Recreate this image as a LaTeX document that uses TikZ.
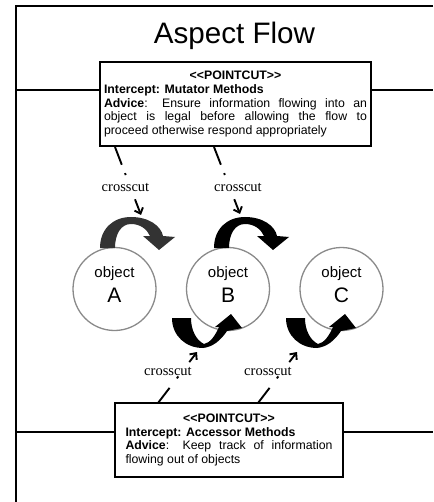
\documentclass[tikz,border=0pt]{standalone}
\usepackage{fontspec}
\setmainfont{Liberation Sans}
\newfontfamily\ccserif{Liberation Serif}
\usetikzlibrary{arrows.meta}
\definecolor{darkarr}{HTML}{333333}
\definecolor{circgray}{HTML}{8A8A8A}
\begin{document}
\begin{tikzpicture}[x=1pt,y=-1pt,
  frameline/.style={line width=2pt,black},
  pcbox/.style={draw=black,line width=1.5pt,fill=white,inner ysep=0pt,align=justify,
    font=\fontsize{12.3}{13.75}\selectfont},
  objcirc/.style={circle,draw=circgray,line width=1.3pt,minimum size=83pt,inner sep=0pt},
  objword/.style={anchor=base,font=\fontsize{15}{15}\selectfont,inner sep=0pt},
  objletter/.style={anchor=base,font=\fontsize{21}{21}\selectfont,inner sep=0pt},
  cclabel/.style={font=\ccserif\fontsize{14.5}{14.5}\selectfont,inner sep=1pt},
  ccup/.style={line width=1.9pt,dash pattern=on 19pt off 9pt on 2pt off 26pt on 60pt,
    -{Straight Barb[length=5pt,width=9pt]}},
  cclow/.style={line width=1.9pt,dash pattern=on 19pt off 12pt on 2.5pt off 18pt on 60pt,
    -{Straight Barb[length=5pt,width=9pt]}},
]
\useasboundingbox (0,0) rectangle (433,502);

% frame
\coordinate (ftr) at (433,6.5);
\coordinate (ftl) at (16,6.5);
\coordinate (fbl) at (16,502);
\draw[frameline] (ftr) -- (ftl) -- (fbl);

% title
\node[anchor=base,font=\fontsize{29.6}{30}\selectfont,inner sep=0pt] (title) at (234.5,44) {Aspect Flow};

% pointcut boxes
\node[pcbox,text width=263pt,inner xsep=4pt,minimum height=84pt] (tb) at (235.5,104) {%
\centerline{\textbf{<{}<POINTCUT>{}>}}
\noindent\textbf{Intercept: Mutator Methods}\par
\noindent\textbf{Advice}: Ensure information flowing into an\linebreak object is legal before allowing the flow to\linebreak proceed otherwise respond appropriately};

\node[pcbox,text width=207pt,inner xsep=10.5pt,minimum height=74pt] (bb) at (229,440) {%
\centerline{\textbf{<{}<POINTCUT>{}>}}
\noindent\textbf{Intercept: Accessor Methods}\par
\noindent\textbf{Advice}: Keep track of information\linebreak flowing out of objects};

% horizontal lines from frame to boxes
\coordinate (hl1) at (16,90.5);
\coordinate (hr1) at (433,90.5);
\coordinate (hl2) at (16,432);
\coordinate (hr2) at (433,432);
\draw[frameline] (hl1) -- (hl1 -| tb.west);
\draw[frameline] (hr1 -| tb.east) -- (hr1);
\draw[frameline] (hl2) -- (hl2 -| bb.west);
\draw[frameline] (hr2 -| bb.east) -- (hr2);

% objects
\node[objcirc] (cA) at (114.5,289) {};
\node[objcirc] (cB) at (228,289) {};
\node[objcirc] (cC) at (341.5,289) {};
\node[objword] (wA) at (114.5,277) {object};
\node[objword] (wB) at (228,277) {object};
\node[objword] (wC) at (341.5,277) {object};
\node[objletter] (lA) at (114.5,302) {A};
\node[objletter] (lB) at (228,302) {B};
\node[objletter] (lC) at (341.5,302) {C};

% curved arrows on top
\fill[darkarr] (100,248) .. controls (100,229) and (113,217) .. (131,217)
  .. controls (149,217) and (161,226) .. (163,236) -- (175,237) -- (159,250) -- (143,236) -- (150,236)
  .. controls (147,229) and (140,224) .. (131,224)
  .. controls (121,224) and (115,234) .. (115,248) -- cycle;
\begin{scope}[xshift=114pt]
\fill[black] (100,248) .. controls (100,229) and (113,217) .. (131,217)
  .. controls (149,217) and (161,226) .. (163,236) -- (175,237) -- (159,250) -- (143,236) -- (150,236)
  .. controls (147,229) and (140,224) .. (131,224)
  .. controls (121,224) and (115,234) .. (115,248) -- cycle;
\end{scope}

% curved arrows below
\fill[black] (172,318) .. controls (172,336) and (186,348) .. (203,348)
  .. controls (213,347) and (221,340) .. (227,331) -- (242,328) -- (231,314) -- (215,327) -- (219,327)
  .. controls (215,336) and (210,343) .. (204,344)
  .. controls (196,340) and (191,330) .. (191,318) -- cycle;
\begin{scope}[xshift=114pt]
\fill[black] (172,318) .. controls (172,336) and (186,348) .. (203,348)
  .. controls (213,347) and (221,340) .. (227,331) -- (242,328) -- (231,314) -- (215,327) -- (219,327)
  .. controls (215,336) and (210,343) .. (204,344)
  .. controls (196,340) and (191,330) .. (191,318) -- cycle;
\end{scope}

% crosscut connectors
\coordinate (u1s) at (115,147);
\coordinate (u1e) at (141,215);
\coordinate (u2s) at (214,147);
\coordinate (u2e) at (240,214);
\coordinate (l1s) at (158,403);
\coordinate (l1e) at (197,352);
\coordinate (l2s) at (258,403);
\coordinate (l2e) at (297,352);
\draw[ccup] (u1s) -- (u1e);
\draw[ccup] (u2s) -- (u2e);
\draw[cclow] (l1s) -- (l1e);
\draw[cclow] (l2s) -- (l2e);

\node[cclabel] (x1) at (125.5,187) {crosscut};
\node[cclabel] (x2) at (238,187) {crosscut};
\node[cclabel] (x3) at (168,371) {crosscut};
\node[cclabel] (x4) at (268,371) {crosscut};
\end{tikzpicture}
\end{document}
